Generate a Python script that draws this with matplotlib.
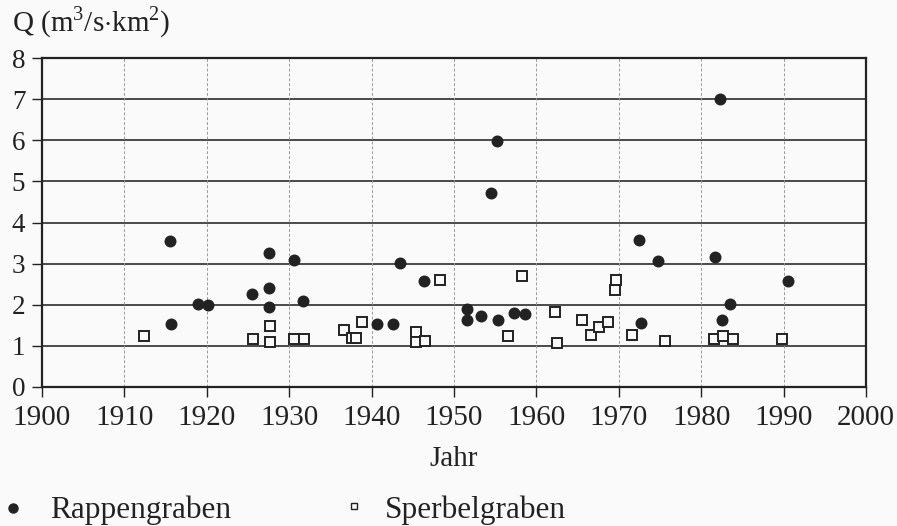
import matplotlib.pyplot as plt
from matplotlib.lines import Line2D

plt.rcParams['font.family'] = ['Liberation Serif', 'DejaVu Serif']
plt.rcParams['mathtext.fontset'] = 'custom'
plt.rcParams['mathtext.rm'] = 'Liberation Serif'

# Rappengraben (filled dots)
years_rappen = [1915.5, 1915.7, 1918.9, 1920.2, 1925.5, 1927.5, 1927.6, 1927.6,
                1930.6, 1931.7, 1940.7, 1942.6, 1943.5, 1946.4, 1951.6, 1951.6,
                1953.3, 1954.5, 1955.2, 1955.4, 1957.3, 1958.6, 1972.5, 1972.7,
                1974.7, 1981.7, 1982.3, 1982.5, 1983.5, 1990.5]
q_rappen = [3.55, 1.52, 2.02, 2.00, 2.27, 3.25, 2.40, 1.94,
            3.09, 2.10, 1.52, 1.52, 3.02, 2.58, 1.90, 1.62,
            1.73, 4.72, 5.98, 1.64, 1.80, 1.78, 3.57, 1.55,
            3.06, 3.16, 7.00, 1.63, 2.03, 2.57]

# Sperbelgraben (open squares)
years_sperbel = [1912.4, 1925.6, 1927.7, 1927.7, 1930.6, 1931.8, 1936.6, 1937.6,
                 1938.1, 1938.8, 1945.4, 1945.4, 1946.5, 1948.3, 1956.5, 1958.3,
                 1962.2, 1962.5, 1965.5, 1966.6, 1967.6, 1968.7, 1969.5, 1969.7,
                 1971.6, 1975.6, 1981.6, 1982.7, 1983.8, 1989.8]
q_sperbel = [1.25, 1.16, 1.48, 1.10, 1.16, 1.16, 1.38, 1.18,
             1.18, 1.57, 1.33, 1.10, 1.13, 2.61, 1.25, 2.69,
             1.82, 1.08, 1.62, 1.26, 1.46, 1.58, 2.37, 2.59,
             1.26, 1.13, 1.17, 1.23, 1.17, 1.17]

x_ticks = list(range(1900, 2001, 10))
y_ticks = list(range(0, 9))

ink = '#222222'
bg = '#fafafa'

fig = plt.figure(figsize=(8.97, 5.26), dpi=100, facecolor=bg)
ax = fig.add_axes([42 / 897, 1 - 387 / 526, (866 - 42) / 897, (387 - 58) / 526])
ax.set_facecolor(bg)

ax.set_xlim(1900, 2000)
ax.set_ylim(0, 8)
ax.set_xticks(x_ticks)
ax.set_yticks(y_ticks)

# grid: solid horizontal, dashed faint vertical
for y in y_ticks[1:]:
    ax.axhline(y, color='#3c3c3c', lw=1.3, zorder=1)
for x in x_ticks[1:-1]:
    ax.axvline(x, color='#9a9a9a', lw=0.7, ls=(0, (3, 2)), zorder=1)

ax.plot(years_sperbel, q_sperbel, ls='none', marker='s', ms=6.5,
        mfc=bg, mec=ink, mew=1.4, zorder=3)
ax.plot(years_rappen, q_rappen, ls='none', marker='o', ms=7.6,
        mfc=ink, mec=ink, zorder=4)

for s in ax.spines.values():
    s.set_color(ink)
    s.set_linewidth(1.6)

ax.tick_params(direction='out', length=7, width=1.0, color=ink,
               labelcolor=ink, pad=6)
ax.tick_params(axis='x', labelsize=21)
ax.tick_params(axis='y', labelsize=19.5, pad=5)

ax.set_xlabel('Jahr', fontsize=21, color=ink, labelpad=11)

fig.text(12 / 897, 1 - 31 / 526, r'Q (m$^{3}$/s$\cdot$km$^{2}$)', fontsize=21,
         color=ink, ha='left', va='baseline')

# legend below the chart
fig.add_artist(Line2D([13 / 897], [1 - 508 / 526], transform=fig.transFigure,
                      marker='o', ms=6.5, mfc=ink, mec=ink, ls='none'))
fig.text(50 / 897, 1 - 518 / 526, 'Rappengraben', fontsize=22.5, color=ink,
         ha='left', va='baseline')
fig.add_artist(Line2D([354 / 897], [1 - 506 / 526], transform=fig.transFigure,
                      marker='s', ms=5, mfc=bg, mec=ink, mew=1.0, ls='none'))
fig.text(385 / 897, 1 - 518 / 526, 'Sperbelgraben', fontsize=22.5, color=ink,
         ha='left', va='baseline')

fig.savefig('out.png', dpi=100, facecolor=bg)
